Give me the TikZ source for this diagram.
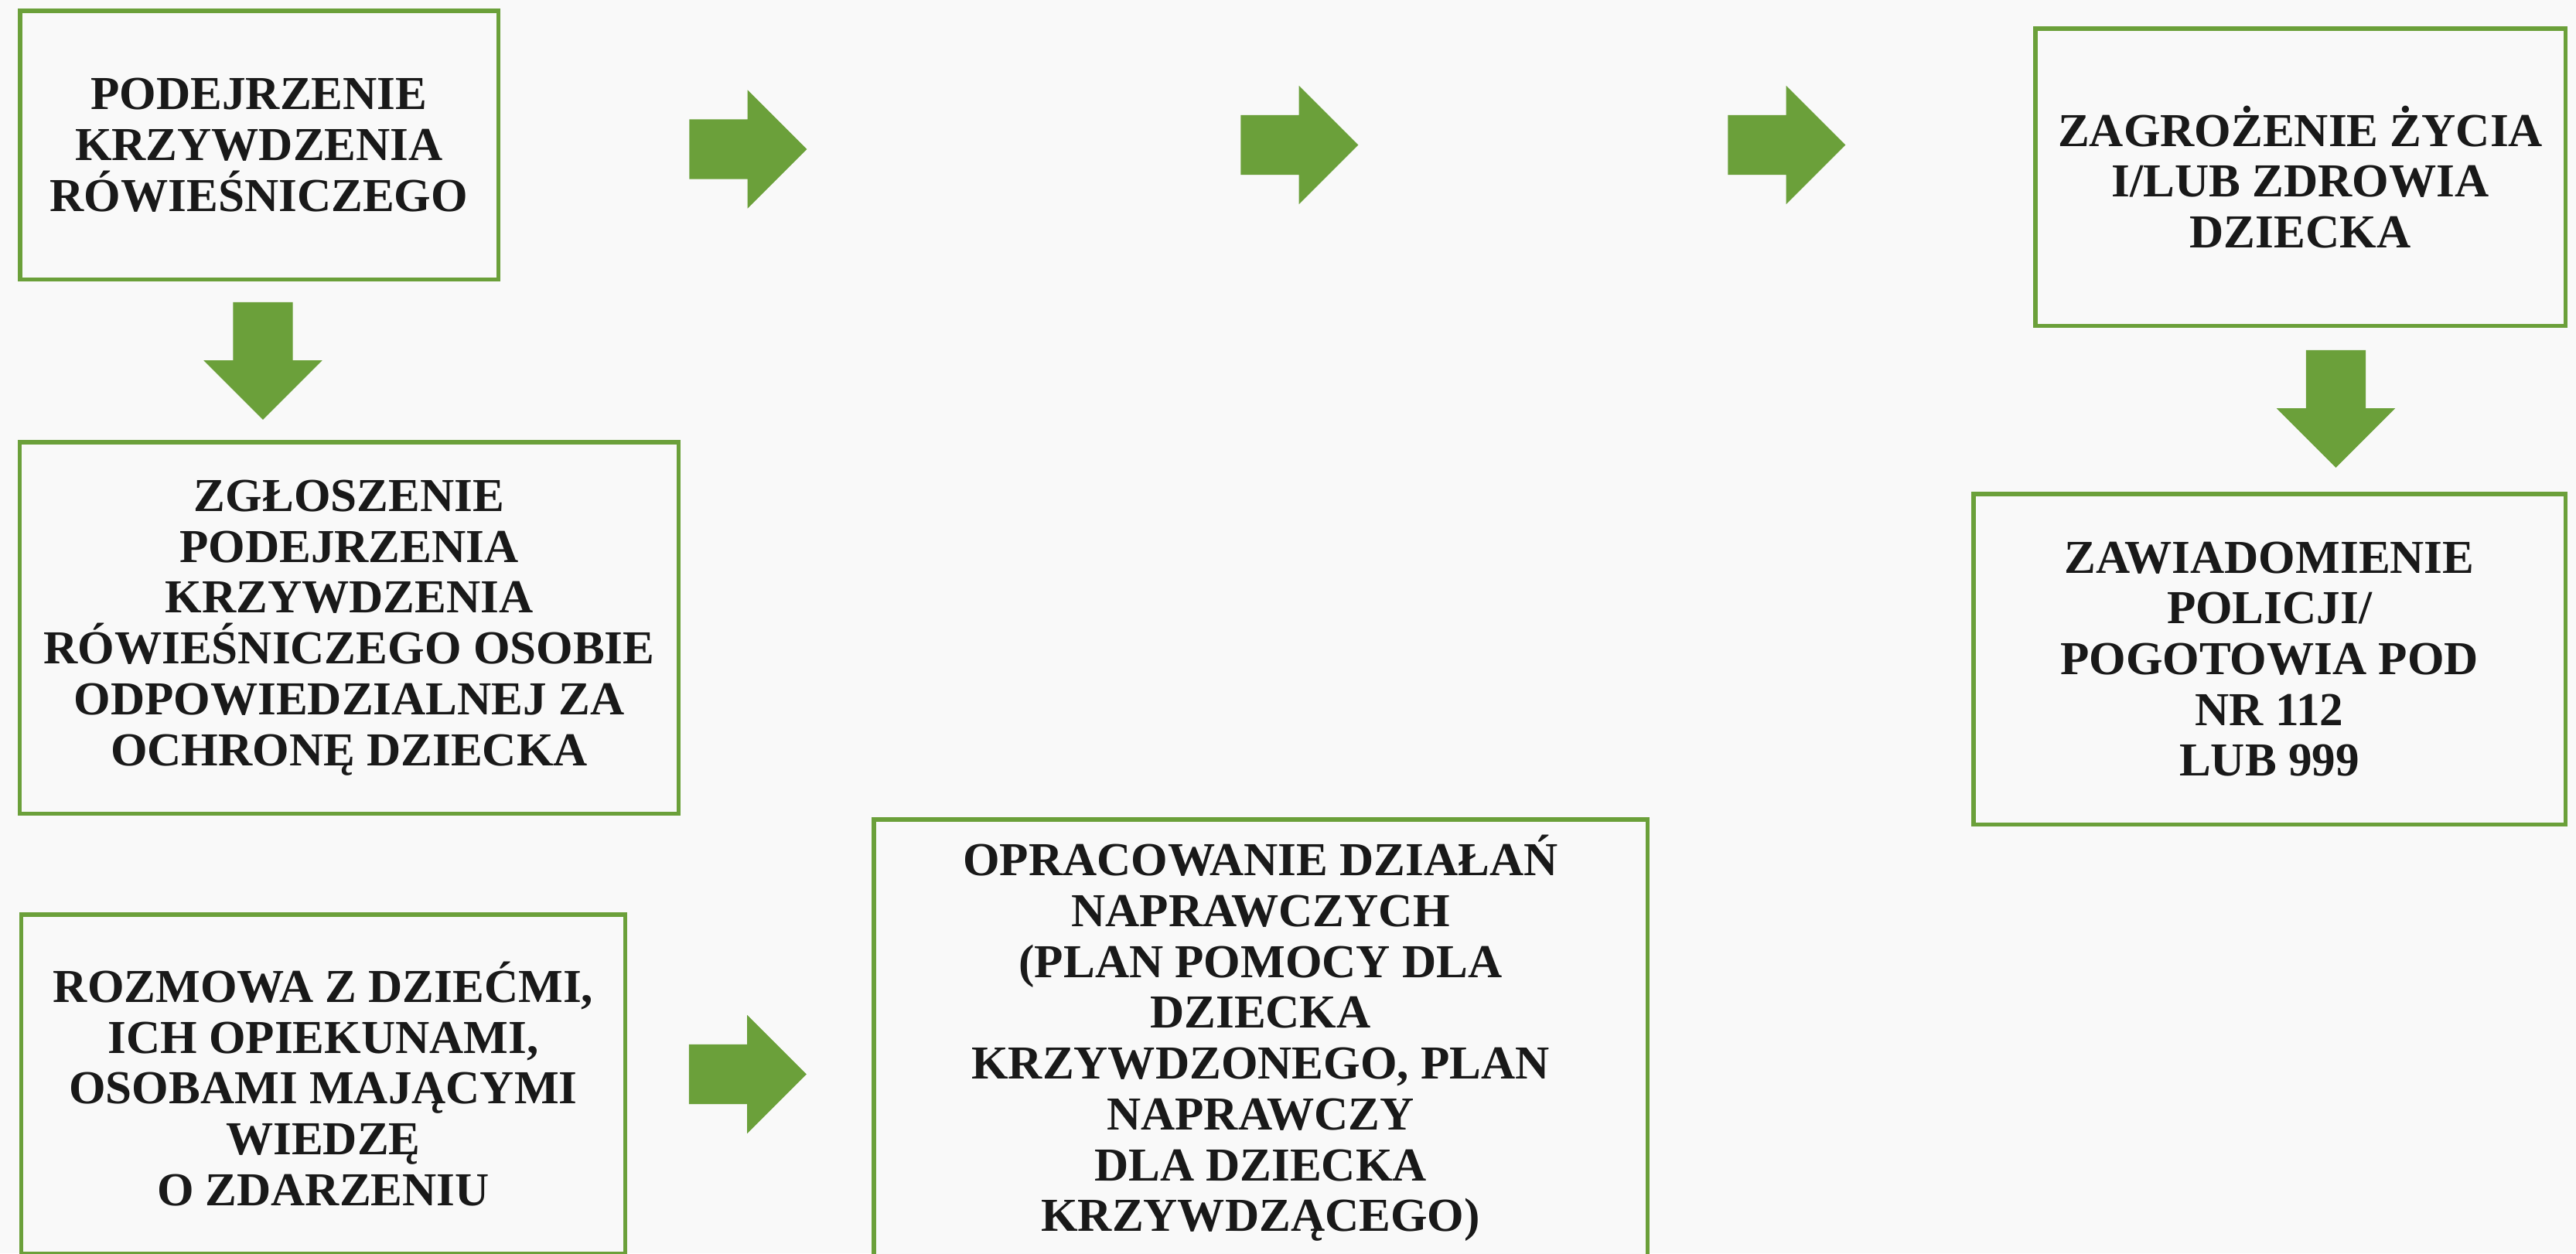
\documentclass[tikz,border=0pt]{standalone}
\usepackage{fontspec}
\setmainfont{Liberation Serif}
\usepackage{tikz}
\usetikzlibrary{shapes.arrows}
\usetikzlibrary{positioning}
\definecolor{leafgreen}{HTML}{6BA03A}
\definecolor{paper}{HTML}{F9F9F9}
\tikzstyle{greenbox} = [rectangle, draw=leafgreen, line width=0.055cm, fill=paper, align=center, inner sep=0pt, font=\fontsize{17.4}{18.7}\selectfont\bfseries, text=black!90]
\tikzstyle{rarrow} = [single arrow, fill=leafgreen, draw=none, inner sep=0.38cm, minimum height=1.52cm, minimum width=1.52cm, single arrow head extend=0.38cm, single arrow tip angle=90, single arrow head indent=0cm]
\tikzstyle{darrow} = [rarrow, shape border rotate=270]

\begin{document}
\begin{tikzpicture}

        % Background
        \clip (0,0) rectangle (33.31,-16.21);
        \fill[paper] (0,0) rectangle (33.31,-16.21);

        % Nodes
        \node (podejrzenie) [greenbox, minimum width=6.185cm, minimum height=3.475cm] at (3.35,-1.875) {PODEJRZENIE\\KRZYWDZENIA\\RÓWIEŚNICZEGO};
        \node (zgloszenie) [greenbox, minimum width=8.515cm, minimum height=4.805cm] at (4.515,-8.12) {ZGŁOSZENIE\\PODEJRZENIA\\KRZYWDZENIA\\RÓWIEŚNICZEGO OSOBIE\\ODPOWIEDZIALNEJ ZA\\OCHRONĘ DZIECKA};
        \node (rozmowa) [greenbox, minimum width=7.805cm, minimum height=4.385cm] at (4.18,-14.02) {ROZMOWA Z DZIEĆMI,\\ICH OPIEKUNAMI,\\OSOBAMI MAJĄCYMI\\WIEDZĘ\\O ZDARZENIU};
        \node (opracowanie) [greenbox, minimum width=10.005cm, minimum height=5.665cm] at (16.30,-13.43) {OPRACOWANIE DZIAŁAŃ\\NAPRAWCZYCH\\(PLAN POMOCY DLA\\DZIECKA\\KRZYWDZONEGO, PLAN\\NAPRAWCZY\\DLA DZIECKA\\KRZYWDZĄCEGO)};
        \node (zagrozenie) [greenbox, minimum width=6.855cm, minimum height=3.845cm] at (29.745,-2.29) {ZAGROŻENIE ŻYCIA\\I/LUB ZDROWIA\\DZIECKA};
        \node (zawiadomienie) [greenbox, minimum width=7.655cm, minimum height=4.275cm] at (29.345,-8.525) {ZAWIADOMIENIE\\POLICJI/\\POGOTOWIA POD\\NR 112\\LUB 999};

        % Arrows
        \node (arrowa) [rarrow] at (9.48,-1.93) {};
        \node (arrowb) [rarrow] at (16.61,-1.875) {};
        \node (arrowc) [rarrow] at (22.91,-1.875) {};
        \node (arrowd) [rarrow] at (9.475,-13.895) {};
        \node (downa) [darrow] at (3.40,-4.475) {};
        \node (downb) [darrow] at (30.205,-5.095) {};

\end{tikzpicture}
\end{document}
